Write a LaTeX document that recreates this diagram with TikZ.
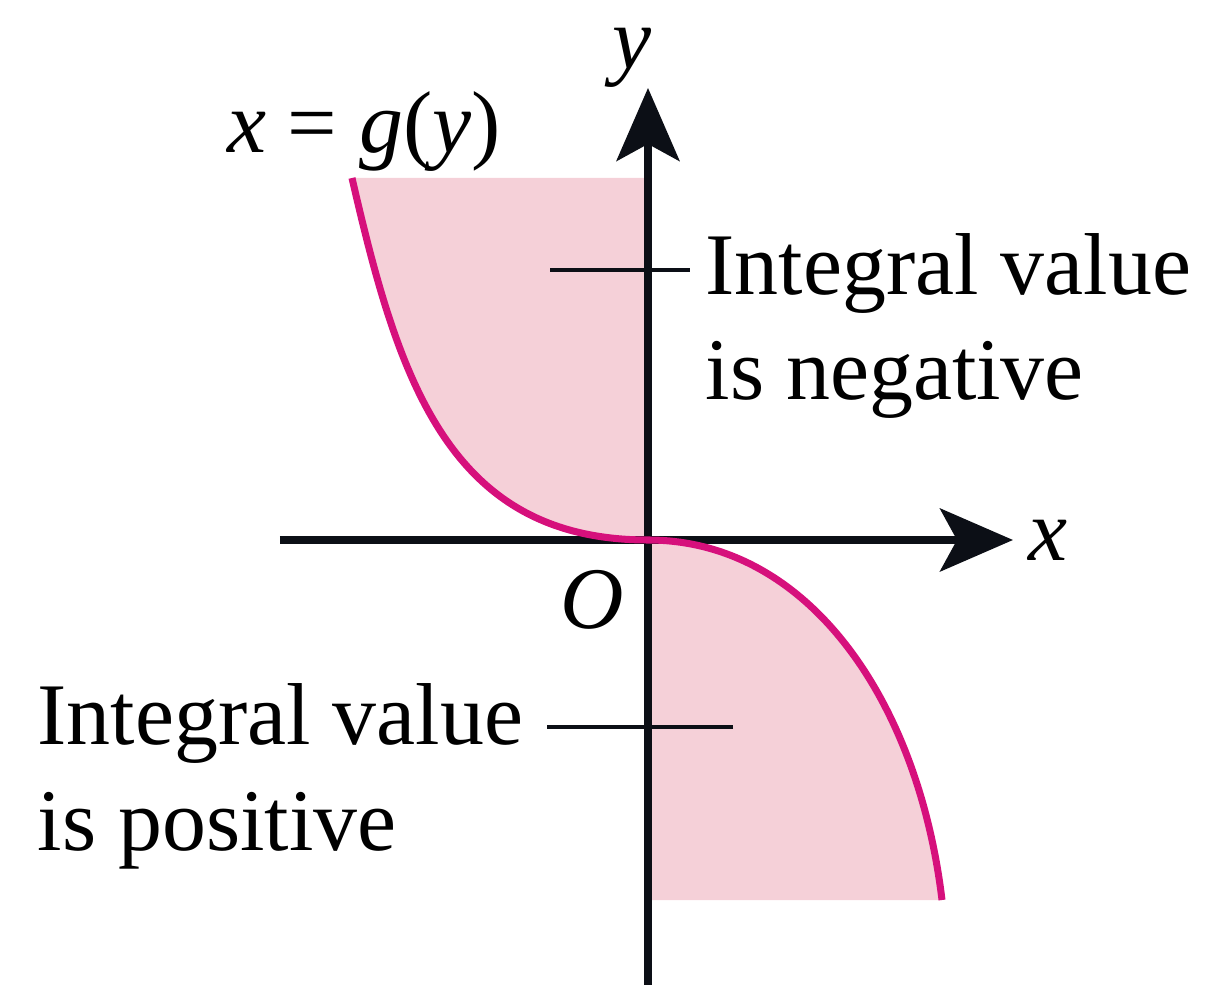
\documentclass[tikz,border=0pt]{standalone}
\usepackage{fontspec}
\setmainfont{Liberation Serif}
\usetikzlibrary{arrows.meta}
\definecolor{curvemag}{RGB}{214,16,124}
\definecolor{regpink}{RGB}{245,208,216}
\definecolor{axisblack}{RGB}{12,15,22}

\begin{document}
\begin{tikzpicture}[
    every node/.style={font=\fontsize{25}{30}\selectfont, inner sep=0pt},
    axis/.style={line width=2pt, draw=axisblack, -{Stealth[length=7.3mm, width=6.3mm, inset=1.7mm]}},
    region/.style={fill=regpink},
    graph/.style={line width=2pt, draw=curvemag},
    tick/.style={line width=1.1pt, draw=axisblack},
    lbl/.style={align=left, anchor=base west}
]
\useasboundingbox (-6.48,-4.45) rectangle (5.62,5.40);

% curve end points
\coordinate (O) at (0,0);
\coordinate (gtop) at (-2.96,3.62);
\coordinate (gbot) at (2.94,-3.60);

% shaded regions between curve and y-axis
\fill[region] (0,3.62) -- (gtop) .. controls (-2.50,1.62) and (-2.0,0) .. (O)
    .. controls (1.6,0) and (2.70,-1.60) .. (gbot) -- (0,-3.60) -- cycle;

% axes
\coordinate (xstart) at (-3.68,0);
\coordinate (xend) at (3.65,0);
\coordinate (ystart) at (0,-4.45);
\coordinate (yend) at (0,4.52);
\draw[axis] (xstart) -- (xend);
\draw[axis] (ystart) -- (yend);
\node (xlab) at (4.00,0) {\textit{x}};
\node (ylab) at (-0.16,4.82) {\textit{y}};
\node (olab) at (-0.56,-0.60) {\textit{O}};

% curve x = g(y)
\draw[graph] (gtop) .. controls (-2.50,1.62) and (-2.0,0) .. (O)
    .. controls (1.6,0) and (2.70,-1.60) .. (gbot);
\node (glab) at (-2.84,4.08) {\textit{x} = \textit{g}(\textit{y})};

% labels
\node[lbl] (neglab) at (0.57,1.40) {Integral value\\is negative};
\coordinate (negtick) at (-0.98,2.70);
\draw[tick] (negtick) -- ([xshift=-1.5mm]negtick -| neglab.west);
\node[lbl] (poslab) at (-6.11,-3.10) {Integral value\\is positive};
\coordinate (postick) at (0.85,-1.87);
\draw[tick] (postick) -- ([xshift=2.3mm]postick -| poslab.east);
\end{tikzpicture}
\end{document}
